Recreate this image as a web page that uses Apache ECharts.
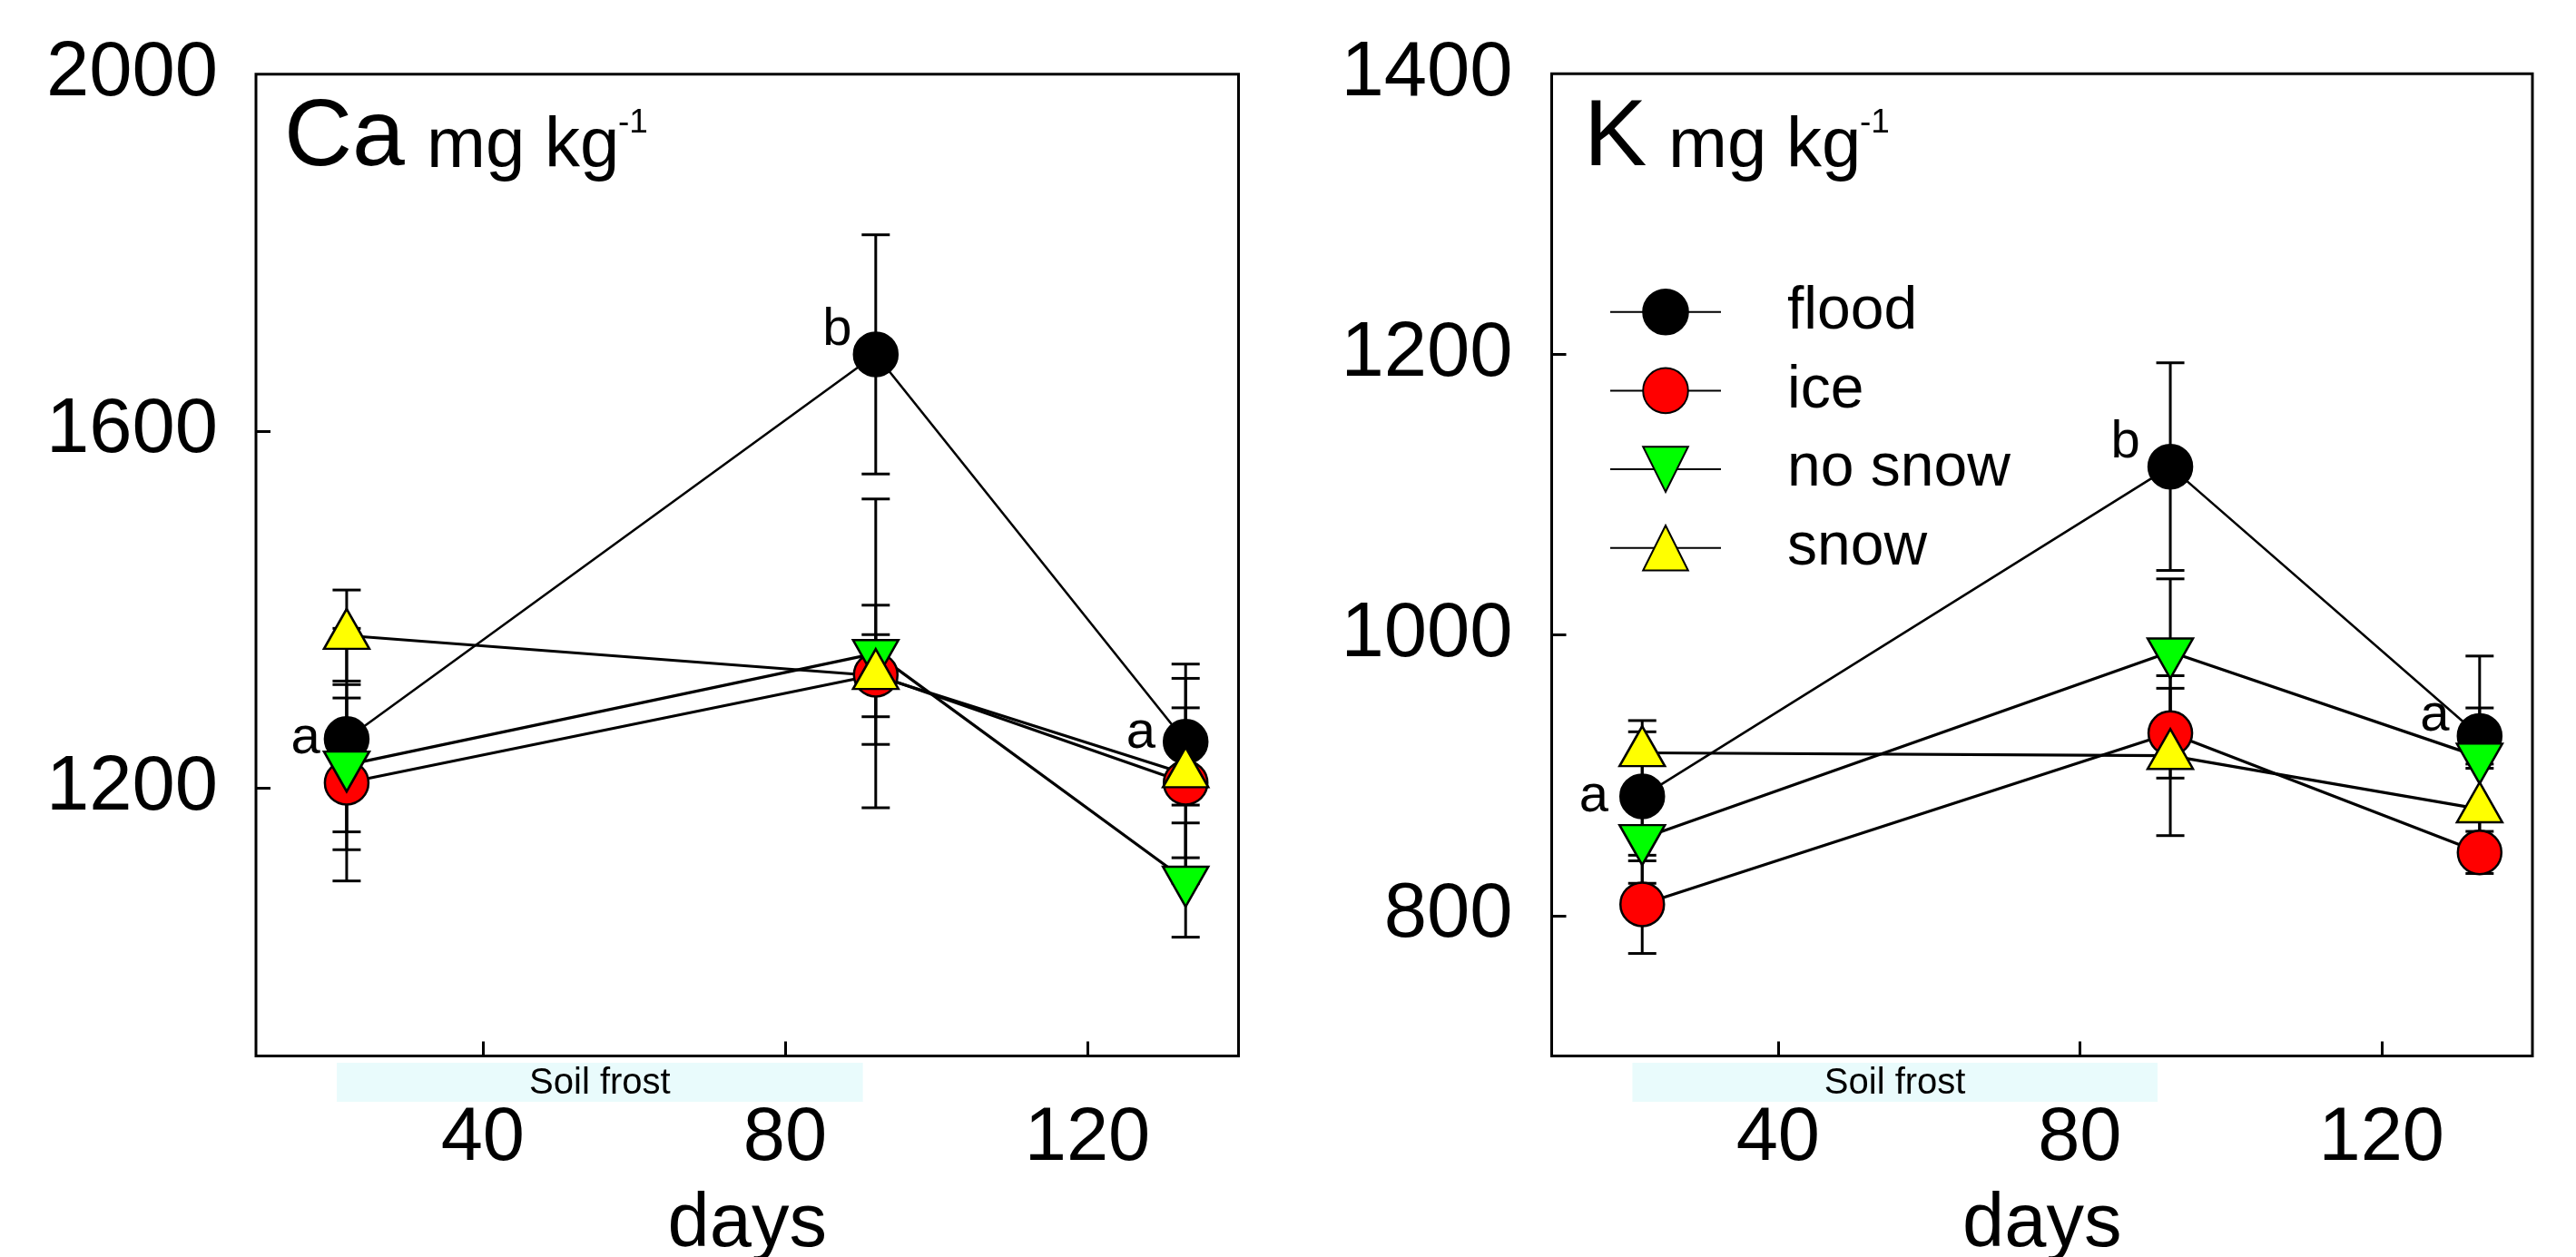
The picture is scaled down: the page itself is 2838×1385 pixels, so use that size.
<!DOCTYPE html>
<html><head><meta charset="utf-8">
<script src="https://cdn.jsdelivr.net/npm/echarts@6/dist/echarts.min.js"></script>
<style>html,body{margin:0;padding:0;background:#fff}#c{width:2838px;height:1385px}</style>
</head><body><div id="c"></div>
<script>
// ---------- data ----------
const days = [22, 92, 133];
const frost = [20.7, 90.3];
const frostLabel = 'Soil frost';
const treatments = ['flood', 'ice', 'no snow', 'snow'];
const letters = ['a', 'b', 'a'];
const dayTicks = [40, 80, 120];

const caFlood  = [1255, 1686, 1252];
const caFloodErr = [124, 134, 71];
const caIce    = [1206, 1327, 1206];
const caIceErr = [110, 78, 84];
const caNoSnow = [1226, 1351, 1097];
const caNoSnowErr = [75, 173, 64];
const caSnow   = [1371, 1326, 1216];
const caSnowErr = [51, 46, 123];
const caTicks = [1200, 1600, 2000];

const kFlood  = [885, 1120, 928];
const kFloodErr = [46, 74, 20];
const kIce    = [808, 930, 845];
const kIceErr = [35, 32, 15];
const kNoSnow = [855, 988, 913];
const kNoSnowErr = [32, 52, 72];
const kSnow   = [916, 914, 876];
const kSnowErr = [23, 57, 29];
const kTicks = [800, 1000, 1200, 1400];

// ---------- styles ----------
const FONT = "'Liberation Sans', Arial, sans-serif";
const colors = ['#000000', '#ff0000', '#00ff00', '#ffff00'];
const symbols = ['circle', 'circle', 'triangle', 'triangle'];
const symSizes = [48, 48, [50, 44], [50, 44]];
const symRot = [0, 0, 180, 0];
const symOff = [[0, 0], [0, 0], [0, 7.3], [0, -7.3]];
const lineW = [2.6, 3.2, 3.2, 3.2];

const panels = [
  { vals: [caFlood, caIce, caNoSnow, caSnow], errs: [caFloodErr, caIceErr, caNoSnowErr, caSnowErr],
    min: 900, max: 2000, ticks: caTicks, labelTicks: [1200, 1600], yMargin: 42,
    letterDist: [4, 1, 8], letterDy: [0, -26, -9] },
  { vals: [kFlood, kIce, kNoSnow, kSnow], errs: [kFloodErr, kIceErr, kNoSnowErr, kSnowErr],
    min: 700, max: 1400, ticks: kTicks, labelTicks: [800, 1000, 1200], yMargin: 43,
    letterDist: [12, 8, 8], letterDy: [1, -26, -22] }
];

function errRender(params, api) {
  const x = api.value(0), lo = api.value(1), hi = api.value(2);
  const a = api.coord([x, hi]), b = api.coord([x, lo]);
  const hw = 15.5;
  const st = { stroke: '#000', lineWidth: 3 };
  return { type: 'group', children: [
    { type: 'line', shape: { x1: a[0], y1: a[1], x2: b[0], y2: b[1] }, style: st },
    { type: 'line', shape: { x1: a[0] - hw, y1: a[1], x2: a[0] + hw, y2: a[1] }, style: st },
    { type: 'line', shape: { x1: b[0] - hw, y1: b[1], x2: b[0] + hw, y2: b[1] }, style: st }
  ]};
}

function frostRender(params, api) {
  const cs = params.coordSys;
  const x1 = api.coord([api.value(0), api.value(2)])[0];
  const x2 = api.coord([api.value(1), api.value(2)])[0];
  const y = cs.y + cs.height + 7.6;
  const h = 43;
  return { type: 'group', children: [
    { type: 'rect', shape: { x: x1, y: y, width: x2 - x1, height: h }, style: { fill: '#e9fbfc' } },
    { type: 'text', style: { text: frostLabel, x: (x1 + x2) / 2, y: y + h / 2 + 1, align: 'center', verticalAlign: 'middle',
      fontSize: 40, fontFamily: FONT, fill: '#000' } }
  ]};
}

const grids = [
  { left: 282, top: 81.7, width: 1082.5, height: 1081.7 },
  { left: 1709.5, top: 81.3, width: 1080.5, height: 1082.1 }
];

const xAxes = [], yAxes = [], series = [];
panels.forEach((p, gi) => {
  Object.assign(grids[gi], { show: true, borderColor: '#000', borderWidth: 3, containLabel: false, outerBoundsMode: 'none' });
  xAxes.push({
    gridIndex: gi, type: 'value', min: 10, max: 140,
    name: 'days', nameLocation: 'middle', nameGap: 145,
    nameTextStyle: { fontSize: 83, fontFamily: FONT, color: '#000' },
    axisLine: { show: false }, splitLine: { show: false },
    axisTick: { show: true, inside: true, length: 16, customValues: dayTicks, lineStyle: { color: '#000', width: 3 } },
    axisLabel: { customValues: dayTicks, margin: 50, fontSize: 83, fontFamily: FONT, color: '#000',
      formatter: v => String(v) }
  });
  yAxes.push({
    gridIndex: gi, type: 'value', min: p.min, max: p.max,
    axisLine: { show: false }, splitLine: { show: false },
    axisTick: { show: true, inside: true, length: 16, customValues: p.labelTicks, lineStyle: { color: '#000', width: 3 } },
    axisLabel: { customValues: p.ticks, margin: p.yMargin, fontSize: 85, fontFamily: FONT, color: '#000',
      formatter: v => String(v) }
  });
  series.push({
    type: 'custom', xAxisIndex: gi, yAxisIndex: gi, silent: true, clip: false,
    renderItem: frostRender, encode: { x: [0, 1], y: 2 },
    data: [[frost[0], frost[1], p.min]]
  });
  treatments.forEach((t, si) => {
    const v = p.vals[si], e = p.errs[si];
    series.push({
      type: 'custom', name: t + ' error', xAxisIndex: gi, yAxisIndex: gi, silent: true,
      renderItem: errRender, encode: { x: 0, y: [1, 2] },
      data: days.map((d, i) => [d, v[i] - e[i], v[i] + e[i]])
    });
    series.push({
      type: 'line', name: t, xAxisIndex: gi, yAxisIndex: gi,
      symbol: symbols[si], symbolSize: symSizes[si], symbolRotate: symRot[si], symbolOffset: symOff[si],
      showAllSymbol: true,
      lineStyle: { color: '#000', width: lineW[si] },
      itemStyle: { color: colors[si], borderColor: '#000', borderWidth: 2.5 },
      emphasis: { disabled: true },
      data: days.map((d, i) => {
        const item = { value: [d, v[i]] };
        if (si === 0) {
          item.label = { show: true, formatter: letters[i], position: 'left', distance: p.letterDist[i],
            offset: [0, p.letterDy[i]], fontSize: 58, fontFamily: FONT, color: '#000' };
        }
        return item;
      })
    });
  });
});

function titleTexts(x0, main, dm, ds) {
  return [
    { type: 'text', x: x0, y: 153, style: { text: main, fontSize: 104, fontFamily: FONT, fill: '#000', verticalAlign: 'middle' } },
    { type: 'text', x: x0 + dm, y: 162, style: { text: 'mg kg', fontSize: 78, fontFamily: FONT, fill: '#000', verticalAlign: 'middle' } },
    { type: 'text', x: x0 + ds, y: 136, style: { text: '-1', fontSize: 37, fontFamily: FONT, fill: '#000', verticalAlign: 'middle' } }
  ];
}

const option = {
  animation: false,
  backgroundColor: '#fff',
  grid: grids,
  xAxis: xAxes,
  yAxis: yAxes,
  legend: {
    data: treatments, orient: 'vertical', left: 1768, top: 305.7,
    itemWidth: 122, itemHeight: 62, itemGap: 20.7,
    textStyle: { fontSize: 66, fontFamily: FONT, color: '#000', lineHeight: 62, padding: [0, 0, 0, 68] },
    selectedMode: false
  },
  graphic: [...titleTexts(313, 'Ca', 157, 368), ...titleTexts(1745, 'K', 93, 304)],
  series: series
};
const chart = echarts.init(document.getElementById('c'));
chart.setOption(option);
</script></body></html>
